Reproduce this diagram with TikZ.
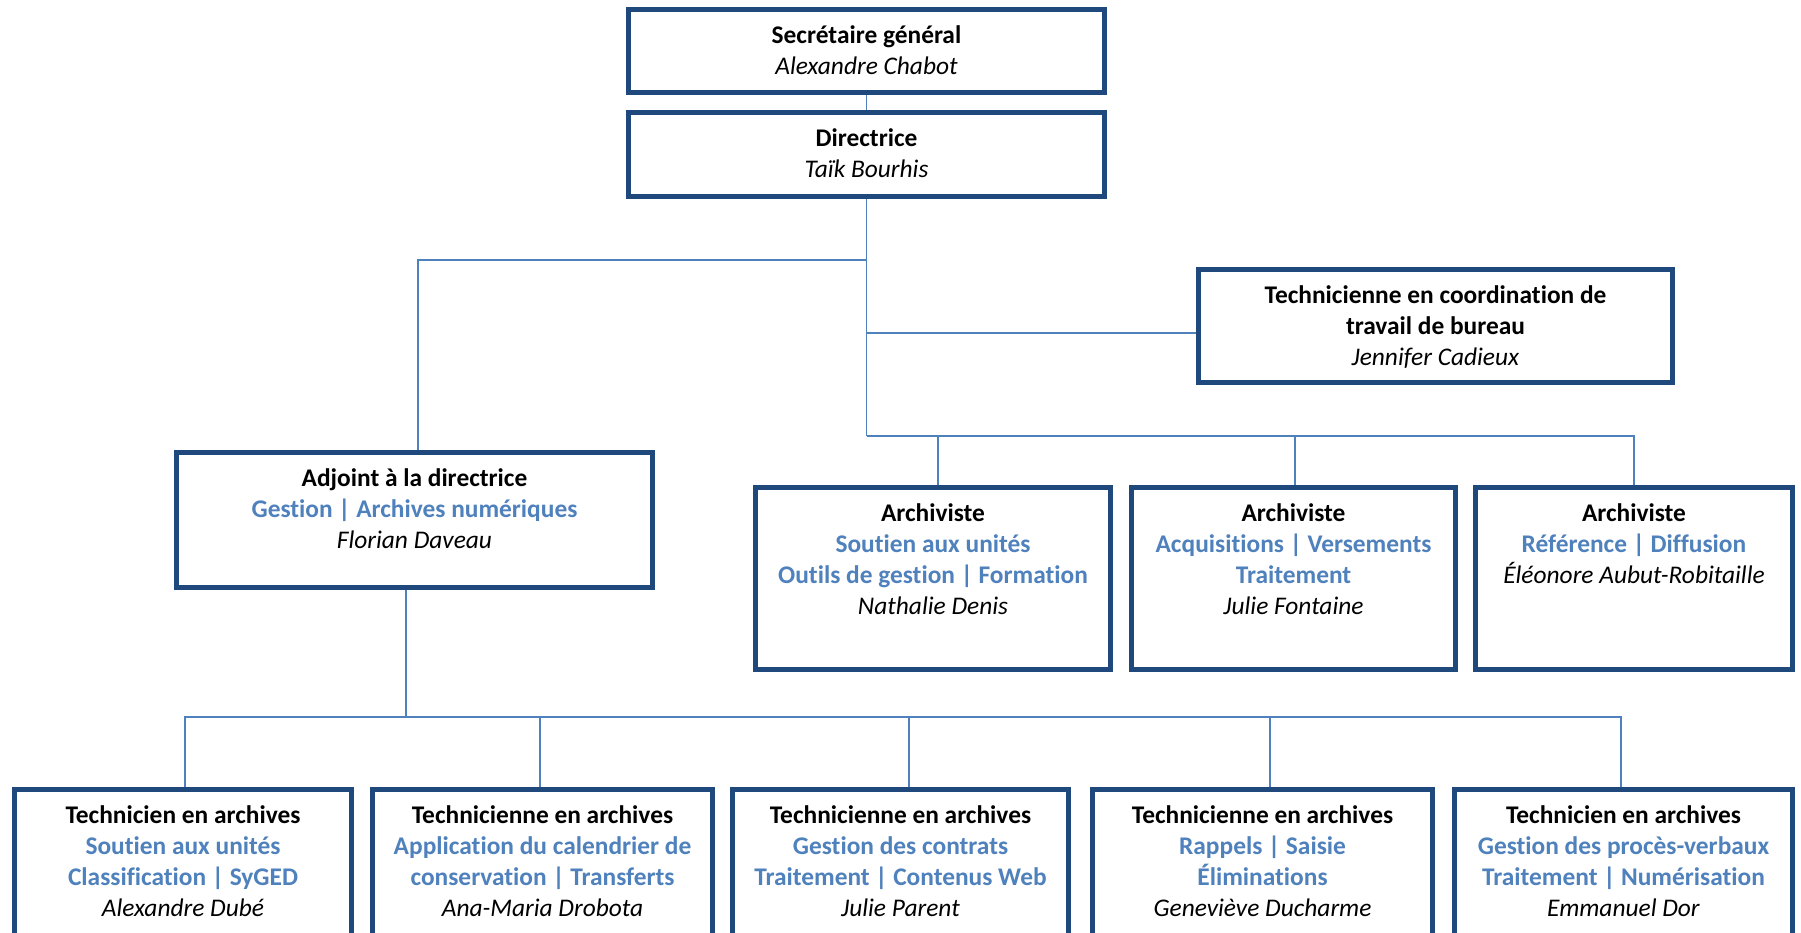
\documentclass[tikz,border=0pt]{standalone}
\usepackage{fontspec}
\setmainfont{Carlito}[Ligatures={NoCommon}]
\definecolor{boxblue}{HTML}{1F497D}
\definecolor{linkblue}{HTML}{4F81BD}
\definecolor{txtblue}{HTML}{4F81BD}
\newcommand\ttlline[1]{\strut\textbf{#1}}
\newcommand\bluline[1]{\strut\textcolor{txtblue}{\textbf{#1}}}
\newcommand\nmeline[1]{\strut\textit{#1}}
\tikzset{
  orgbox/.style={rectangle, draw=boxblue, line width=5pt, fill=white, inner sep=0pt, outer sep=2.5pt},
  conn/.style={draw=linkblue, line width=1.5pt},
  orgtext/.style={anchor=north, align=center, inner sep=0pt, font=\fontsize{25.4}{31}\selectfont},
}
\begin{document}
\begin{tikzpicture}[x=1pt,y=-1pt]
\useasboundingbox (0,0) rectangle (1801,933);
\fill[white] (0,0) rectangle (1801,933);
\clip (0,0) rectangle (1801,933);

% boxes
\node[orgbox, minimum width=476pt, minimum height=83pt] (sec) at (866.5,51) {};
\node[orgbox, minimum width=476pt, minimum height=84pt] (dir) at (866.5,154.5) {};
\node[orgbox, minimum width=474pt, minimum height=113pt] (coord) at (1435.5,326) {};
\node[orgbox, minimum width=476pt, minimum height=135pt] (adj) at (414.5,520) {};
\node[orgbox, minimum width=355pt, minimum height=182pt] (arch1) at (933,578.5) {};
\node[orgbox, minimum width=324pt, minimum height=182pt] (arch2) at (1293.5,578.5) {};
\node[orgbox, minimum width=317pt, minimum height=182pt] (arch3) at (1634,578.5) {};
\node[orgbox, minimum width=337pt, minimum height=168pt] (tech1) at (183,873.5) {};
\node[orgbox, minimum width=340pt, minimum height=168pt] (tech2) at (542.5,873.5) {};
\node[orgbox, minimum width=336pt, minimum height=168pt] (tech3) at (900.5,873.5) {};
\node[orgbox, minimum width=340pt, minimum height=168pt] (tech4) at (1262.5,873.5) {};
\node[orgbox, minimum width=338pt, minimum height=168pt] (tech5) at (1623.5,873.5) {};

% texts
\node[orgtext] (sect) at ([yshift=-15pt]sec.north) {\ttlline{Secrétaire général}\\\nmeline{Alexandre Chabot}};
\node[orgtext] (dirt) at ([yshift=-15pt]dir.north) {\ttlline{Directrice}\\\nmeline{Taïk Bourhis}};
\node[orgtext] (coordt) at ([yshift=-15pt]coord.north) {\ttlline{Technicienne en coordination de}\\\ttlline{travail de bureau}\\\nmeline{Jennifer Cadieux}};
\node[orgtext] (adjt) at ([yshift=-15pt]adj.north) {\ttlline{Adjoint à la directrice}\\\bluline{Gestion | Archives numériques}\\\nmeline{Florian Daveau}};
\node[orgtext] (arch1t) at ([yshift=-15pt]arch1.north) {\ttlline{Archiviste}\\\bluline{Soutien aux unités}\\\bluline{Outils de gestion | Formation}\\\nmeline{Nathalie Denis}};
\node[orgtext] (arch2t) at ([yshift=-15pt]arch2.north) {\ttlline{Archiviste}\\\bluline{Acquisitions | Versements}\\\bluline{Traitement}\\\nmeline{Julie Fontaine}};
\node[orgtext] (arch3t) at ([yshift=-15pt]arch3.north) {\ttlline{Archiviste}\\\bluline{Référence | Diffusion}\\\nmeline{Éléonore Aubut-Robitaille}};
\node[orgtext] (tech1t) at ([yshift=-15pt]tech1.north) {\ttlline{Technicien en archives}\\\bluline{Soutien aux unités}\\\bluline{Classification | SyGED}\\\nmeline{Alexandre Dubé}};
\node[orgtext] (tech2t) at ([yshift=-15pt]tech2.north) {\ttlline{Technicienne en archives}\\\bluline{Application du calendrier de}\\\bluline{conservation | Transferts}\\\nmeline{Ana-Maria Drobota}};
\node[orgtext] (tech3t) at ([yshift=-15pt]tech3.north) {\ttlline{Technicienne en archives}\\\bluline{Gestion des contrats}\\\bluline{Traitement | Contenus Web}\\\nmeline{Julie Parent}};
\node[orgtext] (tech4t) at ([yshift=-15pt]tech4.north) {\ttlline{Technicienne en archives}\\\bluline{Rappels | Saisie}\\\bluline{Éliminations}\\\nmeline{Geneviève Ducharme}};
\node[orgtext] (tech5t) at ([yshift=-15pt]tech5.north) {\ttlline{Technicien en archives}\\\bluline{Gestion des procès-verbaux}\\\bluline{Traitement | Numérisation}\\\nmeline{Emmanuel Dor}};

% junctions
\coordinate (j1) at (866.5,260);
\coordinate (j2) at (866.5,333);
\coordinate (j3) at (866.5,436);
\coordinate (j4) at (406,717);

% connectors
\draw[conn] (sec.south) -- (dir.north);
\draw[conn] (dir.south) -- (j3);
\draw[conn] (j1) -| ([xshift=3.5pt]adj.north);
\draw[conn] (j2) -- (coord.west |- j2);
\draw[conn] (j3) -| (arch3.north);
\draw[conn] ([xshift=5pt]arch1.north) -- ([xshift=5pt]arch1.north |- j3);
\draw[conn] ([xshift=1.5pt]arch2.north) -- ([xshift=1.5pt]arch2.north |- j3);
\draw[conn] ([xshift=-8.5pt]adj.south) -- (j4);
\draw[conn] ([xshift=2pt]tech1.north) |- (j4) -| ([xshift=-2.5pt]tech5.north);
\draw[conn] ([xshift=-2.5pt]tech2.north) -- ([xshift=-2.5pt]tech2.north |- j4);
\draw[conn] ([xshift=8.5pt]tech3.north) -- ([xshift=8.5pt]tech3.north |- j4);
\draw[conn] ([xshift=7.5pt]tech4.north) -- ([xshift=7.5pt]tech4.north |- j4);
\end{tikzpicture}
\end{document}
